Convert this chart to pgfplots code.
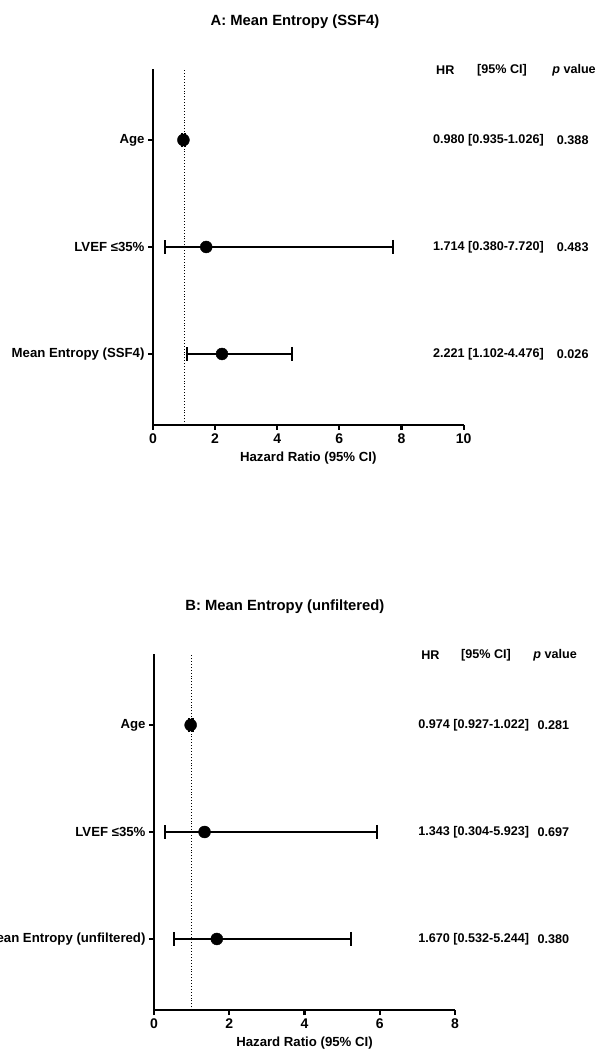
\documentclass[border=0pt]{standalone}
\usepackage{fontspec}
\setmainfont{Liberation Sans}
\usepackage{pgfplots}
\pgfplotsset{compat=1.18}
\usepackage{pgfplotstable}

\pgfplotstableread{
y hr ep em
3 0.980 0.046 0.045
2 1.714 6.006 1.334
1 2.221 2.255 1.119
}\dataA
\pgfplotstableread{
y hr ep em
3 0.974 0.048 0.047
2 1.343 4.580 1.039
1 1.670 3.574 1.138
}\dataB

\newcommand{\lbl}{\fontsize{13.2}{15}\selectfont\bfseries}
\newcommand{\tck}{\fontsize{14}{16}\selectfont\bfseries}
\newcommand{\val}{\fontsize{12.6}{14}\selectfont\bfseries}
\newcommand{\ttl}{\fontsize{14.8}{17}\selectfont\bfseries}

\pgfplotsset{forest/.style={
  scale only axis, height=356pt, anchor=south west, clip=false,
  axis x line*=bottom, axis y line*=left,
  x axis line style={-}, y axis line style={-},
  axis line style={line width=2.1pt, black},
  major tick length=5pt, tick align=outside,
  tick style={line width=2.1pt, black},
  ymin=0.336, ymax=3.664, ytick={1,2,3},
  xmin=0,
  yticklabel style={font=\lbl},
  xticklabel style={font=\tck},
  /pgf/number format/assume math mode=true,
  xlabel style={font=\lbl, yshift=-2pt},
  xlabel={Hazard Ratio (95\% CI)},
}}

\begin{document}
\begin{tikzpicture}
\useasboundingbox (0pt,0pt) rectangle (599pt,1054pt);
% Panel A
\begin{axis}[forest, at={(153pt,629pt)}, width=310.6pt, xmax=10, xtick={0,2,...,10},
  yticklabels={Mean Entropy (SSF4), LVEF ≤35\%, Age}]
\addplot[black, dotted, line width=0.9pt] coordinates {(1,0.336) (1,3.664)};
\addplot[black, only marks, mark=*, mark size=6pt,
  error bars/.cd, x dir=both, x explicit,
  error bar style={line width=2.1pt},
  error mark options={rotate=90, mark size=7pt, line width=2.1pt}]
  table[x=hr, y=y, x error plus=ep, x error minus=em] {\dataA};
\node[font=\ttl] at (rel axis cs:0.457,1) [yshift=47pt] {A: Mean Entropy (SSF4)};
\node[font=\val, anchor=west, inner sep=0pt] at (axis cs:9.11,3.655) {HR};
\node[font=\val, anchor=west, inner sep=0pt] at (axis cs:10.43,3.655) {[95\% CI]};
\node[font=\val, anchor=west, inner sep=0pt] at (axis cs:12.85,3.655) {\textit{p} value};
\node[font=\val, anchor=west, inner sep=0pt] at (axis cs:9.01,3) {0.980 [0.935-1.026]};
\node[font=\val, anchor=west, inner sep=0pt] at (axis cs:13.0,3) {0.388};
\node[font=\val, anchor=west, inner sep=0pt] at (axis cs:9.01,2) {1.714 [0.380-7.720]};
\node[font=\val, anchor=west, inner sep=0pt] at (axis cs:13.0,2) {0.483};
\node[font=\val, anchor=west, inner sep=0pt] at (axis cs:9.01,1) {2.221 [1.102-4.476]};
\node[font=\val, anchor=west, inner sep=0pt] at (axis cs:13.0,1) {0.026};
\end{axis}
% Panel B
\begin{axis}[forest, at={(154pt,44pt)}, width=301pt, xmax=8, xtick={0,2,...,8},
  yticklabels={Mean Entropy (unfiltered), LVEF ≤35\%, Age}]
\addplot[black, dotted, line width=0.9pt] coordinates {(1,0.336) (1,3.664)};
\addplot[black, only marks, mark=*, mark size=6pt,
  error bars/.cd, x dir=both, x explicit,
  error bar style={line width=2.1pt},
  error mark options={rotate=90, mark size=7pt, line width=2.1pt}]
  table[x=hr, y=y, x error plus=ep, x error minus=em] {\dataB};
\node[font=\ttl] at (rel axis cs:0.435,1) [yshift=47pt] {B: Mean Entropy (unfiltered)};
\node[font=\val, anchor=west, inner sep=0pt] at (axis cs:7.10,3.655) {HR};
\node[font=\val, anchor=west, inner sep=0pt] at (axis cs:8.16,3.655) {[95\% CI]};
\node[font=\val, anchor=west, inner sep=0pt] at (axis cs:10.08,3.655) {\textit{p} value};
\node[font=\val, anchor=west, inner sep=0pt] at (axis cs:7.02,3) {0.974 [0.927-1.022]};
\node[font=\val, anchor=west, inner sep=0pt] at (axis cs:10.19,3) {0.281};
\node[font=\val, anchor=west, inner sep=0pt] at (axis cs:7.02,2) {1.343 [0.304-5.923]};
\node[font=\val, anchor=west, inner sep=0pt] at (axis cs:10.19,2) {0.697};
\node[font=\val, anchor=west, inner sep=0pt] at (axis cs:7.02,1) {1.670 [0.532-5.244]};
\node[font=\val, anchor=west, inner sep=0pt] at (axis cs:10.19,1) {0.380};
\end{axis}
\end{tikzpicture}
\end{document}
